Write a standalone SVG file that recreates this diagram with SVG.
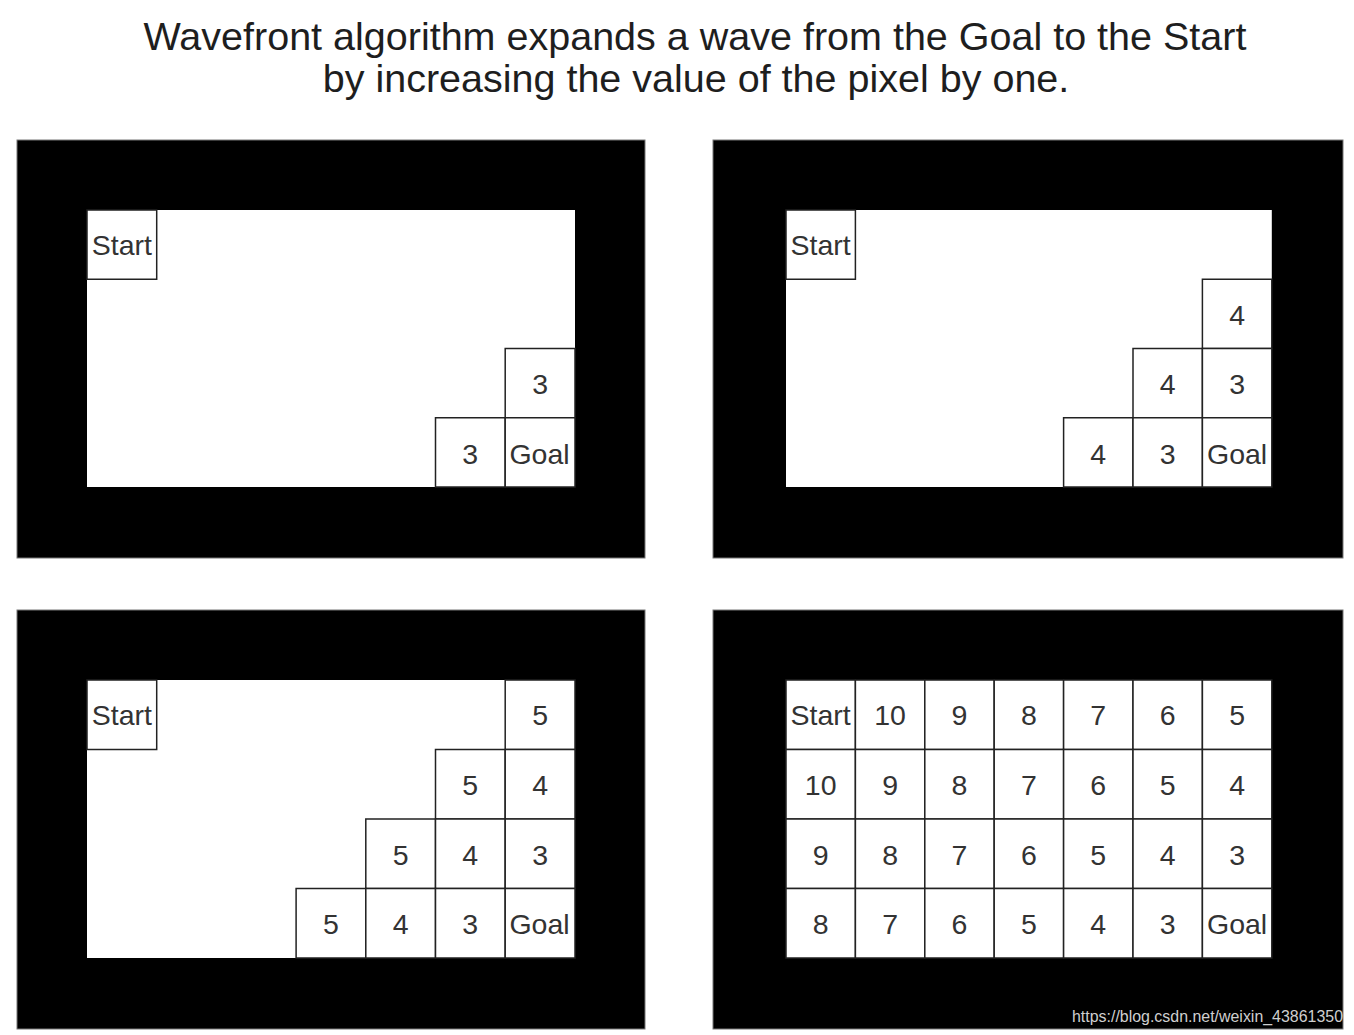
<svg xmlns="http://www.w3.org/2000/svg" width="1354" height="1035" viewBox="0 0 1354 1035">
<style>
.title{font-family:"Liberation Sans",Arial,sans-serif;font-size:39.5px;fill:#1e1e1e;text-anchor:middle}
.frame{fill:#000;stroke:#777;stroke-width:1}
.field{fill:#fff}
.cell rect{fill:#fff;stroke:#222;stroke-width:1.5}
.cell text{font-family:"Liberation Sans",Arial,sans-serif;font-size:28.5px;fill:#333;text-anchor:middle}
.wm{font-family:"Liberation Sans",Arial,sans-serif;font-size:16px;fill:#cfcfcf}
</style>
<rect width="1354" height="1035" fill="#fff"/>
<text class="title" x="695" y="50">Wavefront algorithm expands a wave from the Goal to the Start</text>
<text class="title" x="696" y="92">by increasing the value of the pixel by one.</text>

<!-- Panel 1 -->
<g id="panel1">
<rect class="frame" x="17" y="140" width="628" height="418"/>
<rect class="field" x="87" y="210" width="488" height="277"/>
<g id="p1-start" class="cell"><rect x="87" y="210" width="69.7" height="69.25"/><text x="121.9" y="255">Start</text></g>
<g id="p1-r2c6" class="cell"><rect x="505.2" y="348.5" width="69.8" height="69.25"/><text x="540.1" y="394">3</text></g>
<g id="p1-r3c5" class="cell"><rect x="435.5" y="417.75" width="69.7" height="69.25"/><text x="470.3" y="463.5">3</text></g>
<g id="p1-goal" class="cell"><rect x="505.2" y="417.75" width="69.8" height="69.25"/><text x="539.5" y="463.5">Goal</text></g>
</g>

<!-- Panel 2 -->
<g id="panel2">
<rect class="frame" x="713" y="140" width="630" height="418"/>
<rect class="field" x="786" y="210" width="485.8" height="277"/>
<g id="p2-start" class="cell"><rect x="786" y="210" width="69.4" height="69.25"/><text x="820.7" y="255">Start</text></g>
<g id="p2-r1c6" class="cell"><rect x="1202.4" y="279.25" width="69.4" height="69.25"/><text x="1237.1" y="324.5">4</text></g>
<g id="p2-r2c5" class="cell"><rect x="1133" y="348.5" width="69.4" height="69.25"/><text x="1167.7" y="394">4</text></g>
<g id="p2-r2c6" class="cell"><rect x="1202.4" y="348.5" width="69.4" height="69.25"/><text x="1237.1" y="394">3</text></g>
<g id="p2-r3c4" class="cell"><rect x="1063.6" y="417.75" width="69.4" height="69.25"/><text x="1098.3" y="463.5">4</text></g>
<g id="p2-r3c5" class="cell"><rect x="1133" y="417.75" width="69.4" height="69.25"/><text x="1167.7" y="463.5">3</text></g>
<g id="p2-goal" class="cell"><rect x="1202.4" y="417.75" width="69.4" height="69.25"/><text x="1237.1" y="463.5">Goal</text></g>
</g>

<!-- Panel 3 -->
<g id="panel3">
<rect class="frame" x="17" y="610" width="628" height="419"/>
<rect class="field" x="87" y="680" width="488" height="278"/>
<g id="p3-start" class="cell"><rect x="87" y="680" width="69.7" height="69.5"/><text x="121.9" y="725">Start</text></g>
<g id="p3-r0c6" class="cell"><rect x="505.2" y="680" width="69.8" height="69.5"/><text x="540.1" y="725">5</text></g>
<g id="p3-r1c5" class="cell"><rect x="435.5" y="749.5" width="69.7" height="69.5"/><text x="470.3" y="795">5</text></g>
<g id="p3-r1c6" class="cell"><rect x="505.2" y="749.5" width="69.8" height="69.5"/><text x="540.1" y="795">4</text></g>
<g id="p3-r2c4" class="cell"><rect x="365.8" y="819" width="69.7" height="69.5"/><text x="400.6" y="864.5">5</text></g>
<g id="p3-r2c5" class="cell"><rect x="435.5" y="819" width="69.7" height="69.5"/><text x="470.3" y="864.5">4</text></g>
<g id="p3-r2c6" class="cell"><rect x="505.2" y="819" width="69.8" height="69.5"/><text x="540.1" y="864.5">3</text></g>
<g id="p3-r3c3" class="cell"><rect x="296.1" y="888.5" width="69.7" height="69.5"/><text x="330.9" y="934">5</text></g>
<g id="p3-r3c4" class="cell"><rect x="365.8" y="888.5" width="69.7" height="69.5"/><text x="400.6" y="934">4</text></g>
<g id="p3-r3c5" class="cell"><rect x="435.5" y="888.5" width="69.7" height="69.5"/><text x="470.3" y="934">3</text></g>
<g id="p3-goal" class="cell"><rect x="505.2" y="888.5" width="69.8" height="69.5"/><text x="539.5" y="934">Goal</text></g>
</g>

<!-- Panel 4 -->
<g id="panel4">
<rect class="frame" x="713" y="610" width="630" height="419"/>
<rect class="field" x="786" y="680" width="485.8" height="278"/>
<g id="p4-r0c0" class="cell"><rect x="786" y="680" width="69.4" height="69.5"/><text x="820.7" y="725">Start</text></g>
<g id="p4-r0c1" class="cell"><rect x="855.4" y="680" width="69.4" height="69.5"/><text x="890.1" y="725">10</text></g>
<g id="p4-r0c2" class="cell"><rect x="924.8" y="680" width="69.4" height="69.5"/><text x="959.5" y="725">9</text></g>
<g id="p4-r0c3" class="cell"><rect x="994.2" y="680" width="69.4" height="69.5"/><text x="1028.9" y="725">8</text></g>
<g id="p4-r0c4" class="cell"><rect x="1063.6" y="680" width="69.4" height="69.5"/><text x="1098.3" y="725">7</text></g>
<g id="p4-r0c5" class="cell"><rect x="1133" y="680" width="69.4" height="69.5"/><text x="1167.7" y="725">6</text></g>
<g id="p4-r0c6" class="cell"><rect x="1202.4" y="680" width="69.4" height="69.5"/><text x="1237.1" y="725">5</text></g>

<g id="p4-r1c0" class="cell"><rect x="786" y="749.5" width="69.4" height="69.5"/><text x="820.7" y="795">10</text></g>
<g id="p4-r1c1" class="cell"><rect x="855.4" y="749.5" width="69.4" height="69.5"/><text x="890.1" y="795">9</text></g>
<g id="p4-r1c2" class="cell"><rect x="924.8" y="749.5" width="69.4" height="69.5"/><text x="959.5" y="795">8</text></g>
<g id="p4-r1c3" class="cell"><rect x="994.2" y="749.5" width="69.4" height="69.5"/><text x="1028.9" y="795">7</text></g>
<g id="p4-r1c4" class="cell"><rect x="1063.6" y="749.5" width="69.4" height="69.5"/><text x="1098.3" y="795">6</text></g>
<g id="p4-r1c5" class="cell"><rect x="1133" y="749.5" width="69.4" height="69.5"/><text x="1167.7" y="795">5</text></g>
<g id="p4-r1c6" class="cell"><rect x="1202.4" y="749.5" width="69.4" height="69.5"/><text x="1237.1" y="795">4</text></g>

<g id="p4-r2c0" class="cell"><rect x="786" y="819" width="69.4" height="69.5"/><text x="820.7" y="864.5">9</text></g>
<g id="p4-r2c1" class="cell"><rect x="855.4" y="819" width="69.4" height="69.5"/><text x="890.1" y="864.5">8</text></g>
<g id="p4-r2c2" class="cell"><rect x="924.8" y="819" width="69.4" height="69.5"/><text x="959.5" y="864.5">7</text></g>
<g id="p4-r2c3" class="cell"><rect x="994.2" y="819" width="69.4" height="69.5"/><text x="1028.9" y="864.5">6</text></g>
<g id="p4-r2c4" class="cell"><rect x="1063.6" y="819" width="69.4" height="69.5"/><text x="1098.3" y="864.5">5</text></g>
<g id="p4-r2c5" class="cell"><rect x="1133" y="819" width="69.4" height="69.5"/><text x="1167.7" y="864.5">4</text></g>
<g id="p4-r2c6" class="cell"><rect x="1202.4" y="819" width="69.4" height="69.5"/><text x="1237.1" y="864.5">3</text></g>

<g id="p4-r3c0" class="cell"><rect x="786" y="888.5" width="69.4" height="69.5"/><text x="820.7" y="934">8</text></g>
<g id="p4-r3c1" class="cell"><rect x="855.4" y="888.5" width="69.4" height="69.5"/><text x="890.1" y="934">7</text></g>
<g id="p4-r3c2" class="cell"><rect x="924.8" y="888.5" width="69.4" height="69.5"/><text x="959.5" y="934">6</text></g>
<g id="p4-r3c3" class="cell"><rect x="994.2" y="888.5" width="69.4" height="69.5"/><text x="1028.9" y="934">5</text></g>
<g id="p4-r3c4" class="cell"><rect x="1063.6" y="888.5" width="69.4" height="69.5"/><text x="1098.3" y="934">4</text></g>
<g id="p4-r3c5" class="cell"><rect x="1133" y="888.5" width="69.4" height="69.5"/><text x="1167.7" y="934">3</text></g>
<g id="p4-goal" class="cell"><rect x="1202.4" y="888.5" width="69.4" height="69.5"/><text x="1237.1" y="934">Goal</text></g>
</g>

<g id="connectors"/>

<text class="wm" x="1072" y="1022" textLength="271" lengthAdjust="spacingAndGlyphs">https://blog.csdn.net/weixin_43861350</text>
</svg>
